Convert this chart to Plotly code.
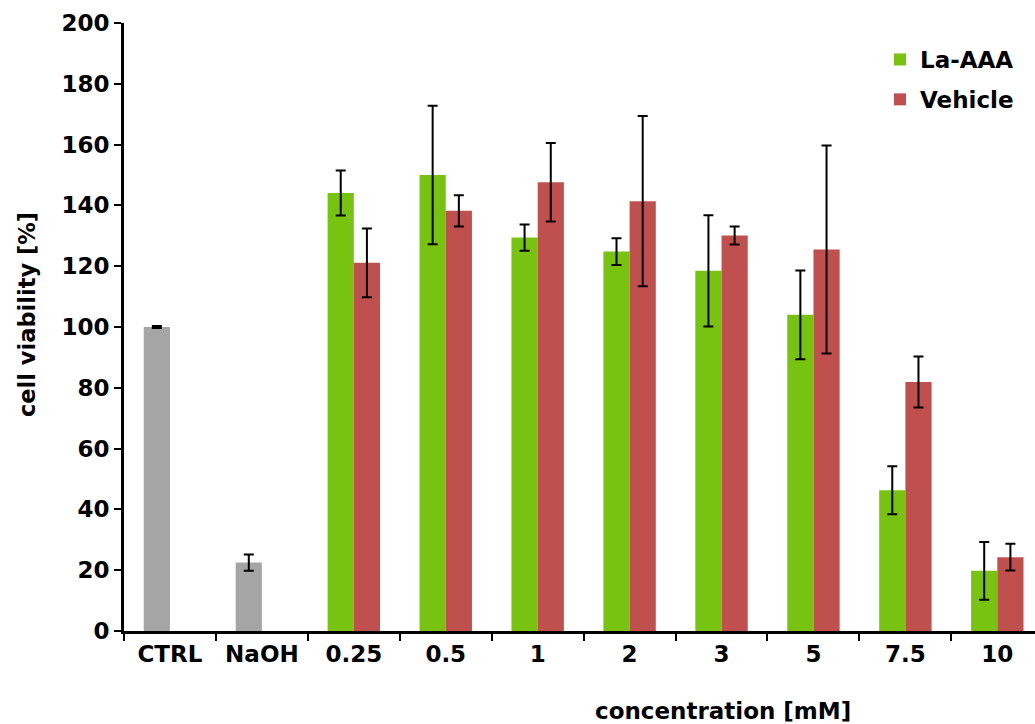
import plotly.graph_objects as go

# Categories along the concentration axis
categories = ["CTRL", "NaOH", "0.25", "0.5", "1", "2", "3", "5", "7.5", "10"]

# Controls (gray bars)
control_x = ["CTRL", "NaOH"]
control_mean = [100.0, 22.5]
control_err = [0.3, 2.7]

# La-AAA treatment
treat_x = ["0.25", "0.5", "1", "2", "3", "5", "7.5", "10"]
la_aaa_mean = [144.1, 150.0, 129.4, 124.8, 118.5, 104.0, 46.3, 19.8]
la_aaa_err = [7.4, 22.8, 4.3, 4.4, 18.3, 14.6, 7.9, 9.5]

# Vehicle treatment
vehicle_mean = [121.1, 138.2, 147.6, 141.4, 130.1, 125.5, 81.9, 24.3]
vehicle_err = [11.3, 5.1, 12.9, 28.0, 3.0, 34.2, 8.4, 4.4]

GREEN = "#77C30F"
RED = "#C0504D"
GRAY = "#A5A5A5"
BAR_W = 0.285

W, H = 1035, 724
ML, MR, MT, MB = 124, 0, 23, 93
PW, PH = W - ML - MR, H - MT - MB

err_style = dict(type="data", visible=True, color="black", thickness=2, width=5)


def bold(size):
    return dict(family="DejaVu Sans", size=size, color="black", weight="bold")


fig = go.Figure()
fig.add_trace(go.Bar(
    x=control_x, y=control_mean, name="Control",
    marker=dict(color=GRAY, line=dict(width=0)),
    width=BAR_W, offset=-BAR_W, showlegend=False,
    error_y=dict(array=control_err, **err_style),
))
fig.add_trace(go.Bar(
    x=treat_x, y=la_aaa_mean, name="La-AAA", legendgroup="a",
    marker=dict(color=GREEN, line=dict(width=0)),
    width=BAR_W, offset=-BAR_W,
    error_y=dict(array=la_aaa_err, **err_style),
))
fig.add_trace(go.Bar(
    x=treat_x, y=vehicle_mean, name="Vehicle", legendgroup="b",
    marker=dict(color=RED, line=dict(width=0)),
    width=BAR_W, offset=0,
    error_y=dict(array=vehicle_err, **err_style),
))

fig.update_layout(
    width=W, height=H,
    margin=dict(l=ML, r=MR, t=MT, b=MB),
    paper_bgcolor="white", plot_bgcolor="white",
    barmode="overlay",
    font=bold(23),
    showlegend=True,
    legend=dict(
        x=(880 - ML) / PW, y=1 - (38 - MT) / PH, xanchor="left", yanchor="top",
        font=bold(23),
        itemwidth=30, tracegroupgap=7, traceorder="grouped",
        bgcolor="rgba(0,0,0,0)",
    ),
    xaxis=dict(
        type="category", categoryorder="array", categoryarray=categories,
        range=[-0.5, 9.41],
        showline=True, linecolor="black", linewidth=3,
        ticks="outside", tickson="boundaries", ticklen=7, tickwidth=2, tickcolor="black",
        showgrid=False, zeroline=False,
        tickfont=bold(23),
    ),
    yaxis=dict(
        range=[0, 200], tickmode="linear", tick0=0, dtick=20,
        showline=True, linecolor="black", linewidth=3,
        ticks="outside", ticklen=7, tickwidth=2, tickcolor="black",
        showgrid=False, zeroline=False,
        tickfont=bold(23),
    ),
    annotations=[
        dict(
            text="concentration [mM]", xref="paper", yref="paper",
            x=(723 - ML) / PW, y=-(711 - (MT + PH)) / PH,
            xanchor="center", yanchor="middle", showarrow=False,
            font=bold(23),
        ),
        dict(
            text="cell viability [%]", xref="paper", yref="paper",
            x=-(ML - 27) / PW, y=1 - (315 - MT) / PH,
            xanchor="center", yanchor="middle", showarrow=False, textangle=-90,
            font=bold(22.5),
        ),
    ],
)

fig.write_html("out.html")
